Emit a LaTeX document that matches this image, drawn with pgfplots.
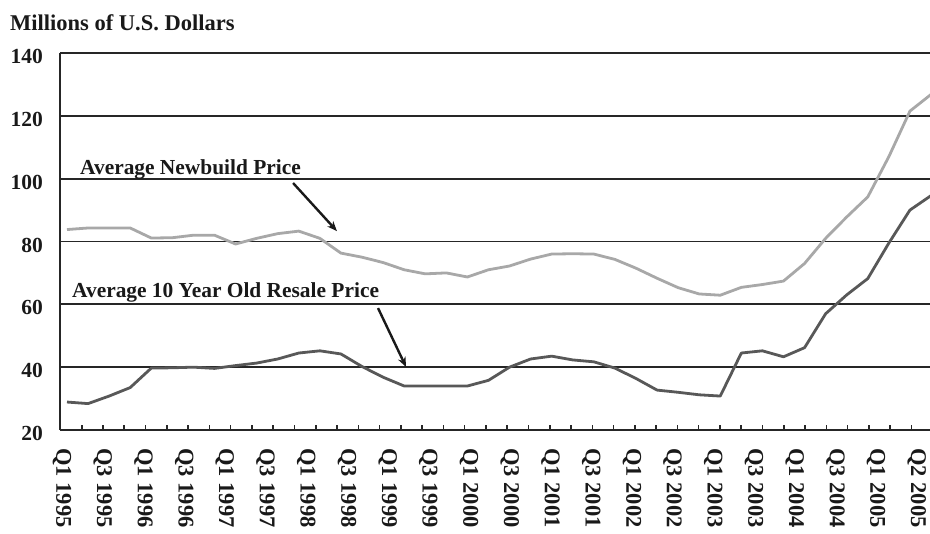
\documentclass[border=0pt]{standalone}
\usepackage{fontspec}
\setmainfont{Liberation Serif}
\usepackage{pgfplots}
\usepackage{pgfplotstable}
\pgfplotsset{compat=1.18}
\usetikzlibrary{arrows.meta}
\definecolor{newc}{RGB}{168,168,168}
\definecolor{resc}{RGB}{88,88,88}
\definecolor{gridc}{RGB}{38,38,38}
\definecolor{txtc}{RGB}{25,25,25}

\pgfplotstableread{
i new res
0 83.8 28.9
1 84.3 28.4
2 84.3 30.8
3 84.3 33.5
4 81.1 39.7
5 81.2 39.8
6 82.0 40.0
7 82.0 39.6
8 79.2 40.5
9 81.0 41.3
10 82.5 42.6
11 83.3 44.5
12 81.0 45.2
13 76.3 44.2
14 75.0 40.2
15 73.3 36.8
16 71.0 34.0
17 69.7 34.0
18 70.0 34.0
19 68.7 34.0
20 71.0 35.8
21 72.2 40.0
22 74.4 42.6
23 76.0 43.5
24 76.1 42.3
25 76.0 41.7
26 74.3 39.7
27 71.5 36.4
28 68.3 32.7
29 65.3 32.0
30 63.3 31.2
31 62.9 30.8
32 65.4 44.5
33 66.3 45.2
34 67.4 43.3
35 73.0 46.2
36 81.0 57.0
37 87.8 63.0
38 94.2 68.2
39 107.0 79.5
40 121.5 90.0
41 126.8 94.6
}\datatable

\begin{document}
\begin{tikzpicture}[font=\fontsize{21.4}{25}\selectfont\bfseries]
\begin{axis}[
  at={(60pt,104pt)}, anchor=south west,
  scale only axis, width=871pt, height=377pt,
  xmin=-0.332, xmax=41, ymin=20, ymax=140,
  clip=false,
  axis x line*=bottom, axis y line*=left,
  x axis line style={-, line width=2.6pt, draw=gridc},
  y axis line style={-, line width=2pt, draw=gridc},
  ytick={20,40,...,140},
  ymajorgrids,
  major grid style={line width=1.9pt, draw=gridc},
  xtick={-0.237,1.6947,...,40.4},
  xticklabels={Q1 1995,Q3 1995,Q1 1996,Q3 1996,Q1 1997,Q3 1997,Q1 1998,Q3 1998,Q1 1999,Q3 1999,Q1 2000,Q3 2000,Q1 2001,Q3 2001,Q1 2002,Q3 2002,Q1 2003,Q3 2003,Q1 2004,Q3 2004,Q1 2005,Q2 2005},
  minor xtick={0.7,1.7095,...,40.2},
  tick align=inside,
  major tick length=0pt,
  minor tick length=5pt,
  minor x tick style={line width=1.6pt, draw=gridc},
  y tick style={draw=none},
  /pgf/number format/assume math mode=true,
  xticklabel style={rotate=-90, anchor=west, inner sep=0pt, font=\fontsize{22.5}{26}\selectfont\bfseries, text=txtc},
  yticklabel style={anchor=east, inner sep=0pt, yshift=-3.5pt, font=\fontsize{21.5}{25}\selectfont\bfseries, text=txtc},
  xticklabel shift=18pt,
  yticklabel shift=17pt,
]
\addplot[newc, line width=2.8pt, line join=round] table[x=i, y=new] {\datatable};
\addplot[resc, line width=2.8pt, line join=round] table[x=i, y=res] {\datatable};

\node[anchor=base west, inner sep=0pt, text=txtc, font=\fontsize{22.5}{26}\selectfont\bfseries] at (axis cs:-2.705,147.3) {Millions of U.S. Dollars};
\node[anchor=base west, inner sep=0pt, text=txtc] at (axis cs:0.617,101.2) {Average Newbuild Price};
\node[anchor=base west, inner sep=0pt, text=txtc] at (axis cs:0.237,62.2) {Average 10 Year Old Resale Price};
\draw[-{Stealth[length=10pt,width=8pt]}, line width=2.4pt, txtc] (axis cs:10.73,98.6) -- (axis cs:12.81,83.3);
\draw[-{Stealth[length=10pt,width=8pt]}, line width=2.4pt, txtc] (axis cs:14.76,58.8) -- (axis cs:16.09,40.05);
\end{axis}
\pgfresetboundingbox
\useasboundingbox (0,0) rectangle (930pt,534pt);
\end{tikzpicture}
\end{document}
